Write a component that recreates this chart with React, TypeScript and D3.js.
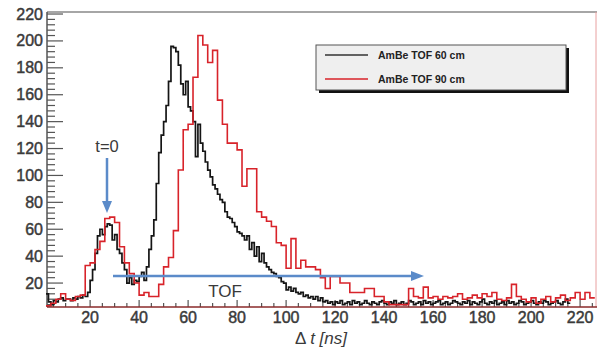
import * as d3 from 'd3'

// histogram binning (ns)
const blackStart = 2
const blackWidth = 1
const redStart = 2
const redWidth = 2

// AmBe TOF 60 cm, 1 ns bins from 2 ns
const black60 = [
  12, 6, 4, 7, 6, 8, 9, 7, 8, 8, 7, 9, 8, 10, 9, 11, 10, 13,
  22, 30, 42, 55, 60, 56, 62, 64, 63, 52, 56, 45, 42, 35, 30, 20, 24, 19, 22, 21,
  25, 28, 22, 32, 45, 55, 67, 94, 117, 130, 140, 152, 170, 196, 195, 192, 182, 168,
  160, 170, 151, 148, 140, 114, 138, 124, 118, 110, 104, 99, 93, 90, 86, 82, 80, 73,
  69, 68, 65, 62, 58, 57, 55, 52, 55, 45, 50, 40, 47, 36, 42, 35, 32, 30, 28, 27,
  25, 24, 21, 20, 15, 17, 14, 16, 13, 12, 13, 10, 11, 9, 10, 8, 10, 7, 9, 6,
  7, 5, 6, 4, 6, 5, 7, 4, 5, 6, 4, 7, 5, 6, 4, 5, 7, 5, 4, 6, 5, 4, 6, 7,
  5, 4, 6, 5, 7, 4, 5, 6, 4, 5, 7, 6, 4, 5, 6, 4, 7, 5, 6, 4, 5, 6, 7, 4,
  5, 6, 4, 5, 7, 6, 5, 4, 6, 5, 7, 4, 6, 5, 4, 6, 8, 5, 4, 6, 5, 7, 4, 5,
  6, 4, 7, 5, 6, 4, 5, 7, 6, 4, 5, 6, 7, 5, 4, 6, 5, 7, 6, 4, 5, 6, 7, 5,
  4, 6, 8, 5
]

// AmBe TOF 90 cm, 2 ns bins from 2 ns
const red90 = [
  3, 5, 8, 12, 8, 7, 10, 11, 33, 35, 45, 51, 68, 69, 65, 47, 35, 27, 20, 11,
  13, 10, 10, 19, 32, 39, 59, 104, 134, 138, 173, 204, 197, 184, 193, 156, 138, 124, 124, 119,
  92, 105, 105, 73, 69, 66, 62, 50, 48, 31, 53, 31, 37, 32, 32, 30, 24, 16, 25, 25,
  20, 20, 13, 13, 13, 16, 16, 10, 10, 6, 4, 4, 4, 4, 16, 10, 9, 17, 9, 10,
  8, 10, 9, 10, 12, 8, 9, 11, 9, 12, 10, 13, 8, 7, 9, 19, 10, 8, 6, 9,
  5, 8, 10, 6, 9, 11, 7, 9, 13, 8, 13, 9
]

const xTickLabels = [20, 40, 60, 80, 100, 120, 140, 160, 180, 200, 220]
const yTickLabels = [20, 40, 60, 80, 100, 120, 140, 160, 180, 200, 220]
const legendLabels = ['AmBe TOF 60 cm', 'AmBe TOF 90 cm']

const W = 597
const H = 347
const FONT = 'Liberation Sans, Arial, Helvetica, sans-serif'

function stepPoints(values: number[], start: number, width: number): [number, number][] {
  const pts: [number, number][] = values.map((v, i) => [start + i * width, v])
  pts.push([start + values.length * width, values[values.length - 1]])
  return pts
}

export default function App() {
  const x = d3.scaleLinear().domain([2.4, 226.9]).range([47, 597])
  const y = d3.scaleLinear().domain([2.2, 221.5]).range([307, 12])

  const line = d3
    .line<[number, number]>()
    .x(d => x(d[0]))
    .y(d => y(Math.max(d[1], 2.2)))
    .curve(d3.curveStepAfter)

  const blackPath = line(stepPoints(black60, blackStart, blackWidth)) || ''
  const redPath = line(stepPoints(red90, redStart, redWidth)) || ''

  const xMinor = d3.range(5, 226, 5)
  const yMinor = d3.range(4, 221, 4)

  const axisColor = '#555'
  const textColor = '#3a3a3a'
  const blue = '#5b8bc9'

  return (
    <svg
      width={W}
      height={H}
      style={{ position: 'absolute', left: 0, top: 0, background: '#fff' }}
      fontFamily={FONT}
    >
      {/* frame */}
      <line x1={47} x2={597} y1={12} y2={12} stroke="#888" strokeWidth={1.5} />
      <line x1={596} x2={596} y1={12} y2={307} stroke="#e8a0a0" strokeWidth={1} />
      <line x1={47} x2={47} y1={12} y2={307} stroke={axisColor} strokeWidth={1.5} />

      {/* y ticks */}
      {yMinor.map(v => (
        <line key={'ym' + v} x1={47} x2={v % 20 === 0 ? 63 : 55} y1={y(v)} y2={y(v)} stroke={axisColor} strokeWidth={1.2} />
      ))}
      {yTickLabels.map(v => (
        <text key={'yl' + v} x={43} y={y(v) + 5.5} textAnchor="end" fontSize={16} fill={textColor} stroke={textColor} strokeWidth={0.45}>
          {v}
        </text>
      ))}

      {/* x ticks */}
      {xMinor.map(v => (
        <line key={'xm' + v} x1={x(v)} x2={x(v)} y1={307} y2={v % 20 === 0 ? 300 : 303} stroke={axisColor} strokeWidth={1.2} />
      ))}
      {xTickLabels.map(v => (
        <text key={'xl' + v} x={x(v)} y={323} textAnchor="middle" fontSize={16} fill={textColor} stroke={textColor} strokeWidth={0.45}>
          {v}
        </text>
      ))}

      {/* histograms */}
      <path d={blackPath} fill="none" stroke="#151515" strokeWidth={1.7} />
      <path d={redPath} fill="none" stroke="#d8232a" strokeWidth={1.6} />

      <line x1={47} x2={597} y1={307} y2={307} stroke="#8a2a2a" strokeWidth={1.5} />

      {/* axis title */}
      <text x={321} y={344} textAnchor="middle" fontSize={17} fill={textColor}>
        Δ <tspan fontStyle="italic">t [ns]</tspan>
      </text>

      {/* legend */}
      <rect x={319} y={48} width={250} height={45} fill="#111" />
      <rect x={316} y={45} width={250} height={45} fill="#efefef" stroke="#555" strokeWidth={1} />
      {legendLabels.map((l, i) => (
        <g key={l}>
          <line x1={325} x2={368} y1={55 + i * 24} y2={55 + i * 24} stroke={i === 0 ? '#333' : '#d8232a'} strokeWidth={1.5} />
          <text x={378} y={59 + i * 24} fontSize={10.5} fontWeight="bold" fill="#222">
            {l}
          </text>
        </g>
      ))}

      {/* annotations */}
      <text x={107} y={152} textAnchor="middle" fontSize={16.5} fill={textColor}>
        t=0
      </text>
      <line x1={107} x2={107} y1={158} y2={204} stroke={blue} strokeWidth={2.5} />
      <path d="M102,201 L112,201 L107,213 Z" fill={blue} />

      <line x1={113} x2={414} y1={276} y2={276} stroke={blue} strokeWidth={2.5} />
      <path d="M411,271 L411,281 L424,276 Z" fill={blue} />
      <text x={225} y={297} textAnchor="middle" fontSize={17} fill={textColor}>
        TOF
      </text>
    </svg>
  )
}
